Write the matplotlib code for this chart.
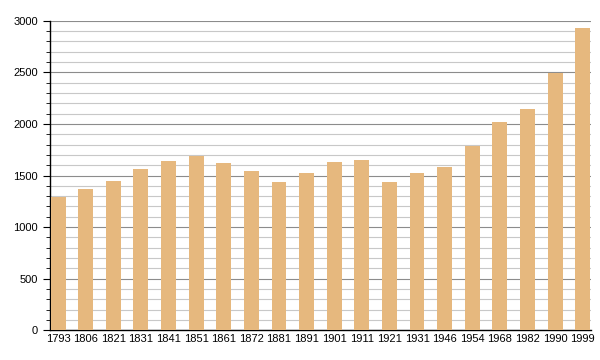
import matplotlib
matplotlib.use("Agg")
from matplotlib import pyplot as plt
from matplotlib.ticker import MultipleLocator

years = ["1793", "1806", "1821", "1831", "1841", "1851", "1861", "1872", "1881", "1891",
         "1901", "1911", "1921", "1931", "1946", "1954", "1968", "1982", "1990", "1999"]
population = [1291, 1370, 1446, 1565, 1640, 1690, 1622, 1544, 1437, 1524,
              1631, 1650, 1437, 1521, 1586, 1786, 2016, 2146, 2497, 2929]

plt.rcParams['font.family'] = ['Liberation Sans', 'DejaVu Sans']

fig = plt.figure(figsize=(6, 3.6), dpi=100)
ax = fig.add_axes([0.083, 0.083, 0.902, 0.859])

x = list(range(len(years)))
ax.bar(x, population, width=0.54, color='#e6b87e', zorder=3)

ax.set_ylim(0, 3000)
ax.set_xlim(-0.3, len(years) - 0.7)
ax.yaxis.set_major_locator(MultipleLocator(500))
ax.yaxis.set_minor_locator(MultipleLocator(100))
ax.grid(which='major', axis='y', color='#8c8c8c', linewidth=0.8, zorder=0)
ax.grid(which='minor', axis='y', color='#c8c8c8', linewidth=0.8, zorder=0)

ax.set_xticks(x)
ax.set_xticklabels(years)
ax.tick_params(axis='x', length=0, labelsize=8, pad=3)
ax.tick_params(axis='y', which='major', length=5, labelsize=8, direction='out')
ax.tick_params(axis='y', which='minor', length=3, direction='out')

for s in ['top', 'right']:
    ax.spines[s].set_visible(False)
ax.spines['left'].set_linewidth(1.0)
ax.spines['bottom'].set_linewidth(1.0)

fig.savefig("out.png", dpi=100)
